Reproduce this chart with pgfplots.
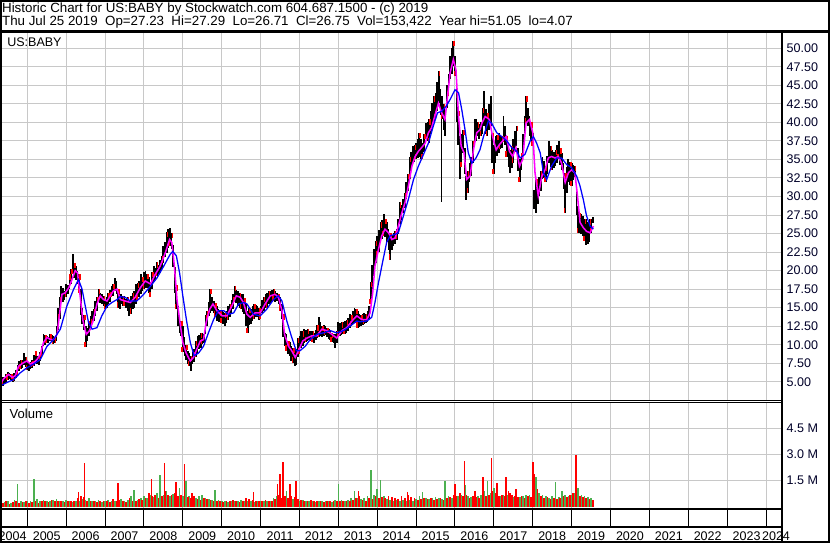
\documentclass[border=0pt]{standalone}
\usepackage{fontspec}
\setmainfont{Liberation Sans}
\usepackage{pgfplots}
\usepackage{pgfplotstable}
\pgfplotsset{compat=1.18}
\definecolor{gridc}{RGB}{200,200,200}
\definecolor{volg}{RGB}{76,176,80}
\definecolor{volr}{RGB}{255,0,0}
\definecolor{mag}{RGB}{255,0,255}
\definecolor{blu}{RGB}{0,0,255}
\definecolor{lab}{RGB}{0,0,40}

\pgfplotstableread{
m lo hi
4.0 4.1 5.2
4.5 4.4 5.6
5.0 4.7 5.7
5.5 5.0 6.0
6.0 5.3 6.3
6.5 5.4 6.2
7.0 5.3 6.1
7.5 5.0 5.9
8.0 5.1 6.2
8.5 5.5 6.6
9.0 5.9 7.3
9.5 6.4 7.8
10.0 6.7 8.0
10.5 6.8 7.9
11.0 7.2 8.85
11.5 7.0 8.4
12.0 6.6 7.8
12.5 6.5 7.5
13.0 6.7 7.7
13.5 6.8 7.9
14.0 7.1 8.6
14.5 7.6 9.2
15.0 7.4 8.5
15.5 7.2 8.3
16.0 7.8 9.0
16.5 8.6 9.8
17.0 9.8 11.4
17.5 10.0 11.3
18.0 10.3 11.2
18.5 10.2 11.0
19.0 10.5 11.4
19.5 10.4 11.3
20.0 10.1 11.2
20.5 10.3 11.0
21.0 10.5 12.5
21.5 12.0 15.0
22.0 13.5 16.5
22.5 15.7 17.9
23.0 15.8 17.7
23.5 16.0 17.3
24.0 16.5 18.2
24.5 16.8 18.0
25.0 17.5 19.5
25.5 18.2 20.2
26.0 19.5 22.3
26.5 19.0 21.0
27.0 18.8 20.6
27.5 18.2 20.0
28.0 17.0 19.5
28.5 14.0 17.5
29.0 12.8 15.0
29.5 12.0 14.0
30.0 9.7 12.5
30.5 10.5 12.3
31.0 11.2 13.2
31.5 12.0 13.9
32.0 12.8 14.6
32.5 13.2 14.8
33.0 13.9 15.9
33.5 14.5 16.5
34.0 15.8 17.5
34.5 15.6 17.0
35.0 15.5 16.8
35.5 15.2 16.6
36.0 14.8 16.1
36.5 15.0 16.4
37.0 15.5 17.0
37.5 15.8 17.4
38.0 16.4 17.9
38.5 16.6 18.2
39.0 17.3 19.0
39.5 16.8 18.6
40.0 15.0 17.5
40.5 14.8 16.8
41.0 15.5 16.8
41.5 15.2 16.6
42.0 15.2 16.6
42.5 15.0 16.2
43.0 14.5 16.4
43.5 13.9 16.0
44.0 14.2 16.6
44.5 14.8 17.0
45.0 15.0 17.3
45.5 15.5 18.2
46.0 16.0 18.3
46.5 16.5 18.6
47.0 16.8 19.5
47.5 17.2 19.2
48.0 17.5 19.8
48.5 17.7 20.0
49.0 17.7 19.6
49.5 17.0 19.1
50.0 16.4 18.5
50.5 17.5 19.8
51.0 18.4 20.6
51.5 18.8 20.4
52.0 19.3 21.1
52.5 19.5 20.8
53.0 19.7 21.5
53.5 20.2 22.0
54.0 21.0 23.3
54.5 21.8 23.8
55.0 22.4 25.2
55.5 23.0 25.6
56.0 23.3 25.8
56.5 22.9 25.1
57.0 20.5 23.5
57.5 17.0 20.5
58.0 14.8 18.0
58.5 12.5 15.2
59.0 11.6 13.9
59.5 11.2 13.2
60.0 9.0 12.5
60.5 8.5 11.0
61.0 8.0 10.0
61.5 7.4 9.2
62.0 7.1 8.9
62.5 6.5 8.5
63.0 7.4 9.0
63.5 7.7 9.4
64.0 8.3 10.5
64.5 8.8 11.2
65.0 9.4 11.3
65.5 9.6 11.6
66.0 10.1 11.6
66.5 10.2 11.4
67.0 11.5 14.0
67.5 12.5 14.5
68.0 13.9 15.8
68.5 14.3 17.5
69.0 14.5 16.4
69.5 14.3 15.9
70.0 13.8 15.6
70.5 13.2 15.2
71.0 13.0 14.8
71.5 13.1 14.6
72.0 12.9 14.6
72.5 12.8 14.4
73.0 12.5 14.3
73.5 12.9 14.6
74.0 13.4 15.2
74.5 13.8 15.5
75.0 14.3 16.1
75.5 14.8 16.8
76.0 15.7 17.9
76.5 15.6 17.4
77.0 15.2 17.2
77.5 15.0 17.0
78.0 14.8 16.8
78.5 14.4 16.8
79.0 14.2 16.3
79.5 12.5 15.5
80.0 11.6 14.5
80.5 12.6 15.0
81.0 12.8 14.8
81.5 13.2 15.2
82.0 13.5 15.5
82.5 13.7 15.3
83.0 13.8 15.2
83.5 13.4 15.0
84.0 13.5 15.2
84.5 14.3 16.0
85.0 14.6 16.4
85.5 14.9 16.8
86.0 15.0 17.0
86.5 15.5 17.3
87.0 15.6 17.2
87.5 15.7 17.4
88.0 15.9 17.5
88.5 15.8 17.2
89.0 15.9 17.0
89.5 15.5 16.8
90.0 14.6 16.4
90.5 13.5 15.5
91.0 11.0 14.1
91.5 9.8 11.6
92.0 9.2 11.4
92.5 8.8 10.5
93.0 8.5 10.4
93.5 7.8 9.8
94.0 7.6 9.6
94.5 7.1 9.2
95.0 7.3 9.4
95.5 8.3 10.9
96.0 8.8 11.2
96.5 9.6 11.9
97.0 9.8 11.8
97.5 10.3 12.1
98.0 10.4 12.0
98.5 10.5 12.1
99.0 10.6 11.9
99.5 10.5 11.9
100.0 10.4 11.8
100.5 10.3 11.6
101.0 10.6 12.0
101.5 10.9 12.6
102.0 11.0 13.7
102.5 11.2 13.0
103.0 11.0 12.5
103.5 11.2 12.6
104.0 11.3 12.5
104.5 11.1 12.3
105.0 10.8 12.1
105.5 10.7 11.9
106.0 10.4 11.6
106.5 10.3 11.5
107.0 9.6 11.4
107.5 10.2 11.8
108.0 11.0 13.0
108.5 11.2 12.9
109.0 11.3 13.0
109.5 11.4 13.1
110.0 11.4 13.2
110.5 11.6 13.3
111.0 11.8 13.6
111.5 12.3 14.1
112.0 12.5 14.0
112.5 12.8 14.5
113.0 13.0 15.0
113.5 12.9 14.8
114.0 12.3 14.6
114.5 12.4 14.1
115.0 12.5 14.0
115.5 12.6 14.1
116.0 12.8 14.3
116.5 12.9 14.2
117.0 13.0 14.6
117.5 13.5 15.2
118.0 15.5 18.5
118.5 17.5 20.8
119.0 19.3 22.9
119.5 21.0 24.0
120.0 22.0 24.7
120.5 22.5 25.5
121.0 23.8 26.5
121.5 24.3 26.8
122.0 24.7 27.6
122.5 24.5 27.0
123.0 23.8 26.5
123.5 22.8 25.6
124.0 21.5 25.1
124.5 22.8 24.8
125.0 23.3 25.1
125.5 23.6 25.3
126.0 24.2 25.6
126.5 25.0 27.0
127.0 26.3 29.2
127.5 26.8 28.8
128.0 27.8 29.6
128.5 28.4 30.5
129.0 29.6 31.9
129.5 30.8 33.0
130.0 32.3 35.4
130.5 33.5 36.0
131.0 34.5 36.8
131.5 34.6 37.0
132.0 35.0 37.2
132.5 35.2 37.8
133.0 35.4 38.6
133.5 35.0 37.8
134.0 35.0 37.2
134.5 36.0 38.5
135.0 37.7 39.9
135.5 37.5 40.0
136.0 37.2 40.4
136.5 38.5 41.5
137.0 39.0 42.6
137.5 40.0 43.5
138.0 40.4 44.0
138.5 41.5 45.5
139.0 42.6 46.9
139.5 41.0 44.5
140.0 40.4 43.5
140.5 39.0 42.5
141.0 38.1 41.7
141.5 42.0 45.0
142.0 43.5 46.5
142.5 45.8 48.9
143.0 46.5 50.0
143.5 47.6 51.0
144.0 46.2 48.9
144.5 40.0 44.5
145.0 37.0 41.5
145.5 32.3 38.1
146.0 34.0 38.5
146.5 35.9 39.0
147.0 33.0 36.5
147.5 29.5 32.8
148.0 30.5 33.5
148.5 31.9 34.5
149.0 32.8 35.4
149.5 34.5 37.5
150.0 36.8 40.4
150.5 37.5 40.4
151.0 38.1 40.0
151.5 37.8 39.8
152.0 38.1 40.0
152.5 38.5 42.0
153.0 39.5 44.2
153.5 38.5 41.8
154.0 38.1 41.3
154.5 39.0 42.5
155.0 39.5 43.5
155.5 34.5 38.6
156.0 33.0 37.0
156.5 34.5 38.1
157.0 35.5 38.3
157.5 35.9 38.6
158.0 36.4 38.3
158.5 36.6 38.1
159.0 38.1 40.8
159.5 37.0 39.5
160.0 35.4 38.1
160.5 34.0 37.0
161.0 33.2 36.3
161.5 33.8 36.8
162.0 34.5 37.7
162.5 36.0 38.8
163.0 36.8 39.5
163.5 33.5 36.5
164.0 31.9 35.0
164.5 33.6 35.9
165.0 35.5 38.5
165.5 38.6 40.8
166.0 39.9 43.5
166.5 39.5 42.0
167.0 38.1 40.8
167.5 37.5 40.0
168.0 36.8 38.6
168.5 28.3 30.9
169.0 27.8 32.3
169.5 29.0 31.8
170.0 30.1 32.7
170.5 30.8 33.5
171.0 32.3 35.4
171.5 32.5 34.8
172.0 31.9 34.1
172.5 33.0 35.5
173.0 34.5 37.5
173.5 34.0 36.8
174.0 33.6 36.3
174.5 33.8 36.0
175.0 34.1 36.3
175.5 34.5 37.0
176.0 35.0 37.5
176.5 34.3 36.5
177.0 33.6 35.9
177.5 31.0 34.5
178.0 27.8 33.2
178.5 30.5 34.0
179.0 31.9 35.0
179.5 31.5 34.6
180.0 31.4 34.5
180.5 32.2 34.3
181.0 32.7 34.1
181.5 27.5 31.5
182.0 25.1 28.7
182.5 25.1 27.8
183.0 24.9 27.6
183.5 24.7 27.4
184.0 24.0 27.0
184.5 23.5 26.9
185.0 23.6 26.5
185.5 23.8 26.9
186.0 25.1 26.9
186.5 26.4 27.3
}\price

\pgfplotstableread{
m g r
4 .35 .2
5 .25 .3
6 .3 .15
7 .2 .25
8 .4 .3
9 1.31 .2
10 .3 .25
11 .25 .35
12 .3 .2
13 .35 .25
14 1.6 .3
15 .45 .2
16 .3 .35
17 .4 .3
18 .35 .25
19 .3 .4
20 .4 .3
21 .45 .35
22 .35 .3
23 .3 .25
24 .4 .3
25 .3 .35
26 .25 .3
27 .35 .5
28 .3 .6
29 .45 .55
30 .4 .3
31 .5 .35
32 .35 .3
33 .3 .25
34 .4 .3
35 .25 .35
36 .3 .3
37 .4 .25
38 .35 .45
39 .3 .35
40 .3 .4
41 .45 .3
42 .35 .25
43 .4 .5
44 .6 .3
45 .94 .35
46 .4 .45
47 .5 .4
48 .6 .5
49 .5 .8
50 .7 .6
51 .55 .7
52 .8 .5
53 1.82 .6
54 .7 .9
55 .9 .7
56 .6 .65
57 .75 .8
58 .85 .6
59 1.07 .7
60 .6 .8
61 1.5 .55
62 .6 .5
63 .55 .6
64 .5 .45
65 .6 .4
66 .7 .5
67 .5 .45
68 .45 .4
69 .4 .35
70 .98 .3
71 .4 .35
72 .3 .25
73 .35 .3
74 .25 .35
75 .3 .4
76 .35 .3
77 .3 .25
78 .4 .35
79 .3 .5
80 .35 .45
81 .3 .4
82 .25 .35
83 .3 .3
84 .35 .3
85 .3 .4
86 .35 .3
87 .3 .35
88 .5 .45
89 .6 .7
90 .7 .5
91 .55 .6
92 .9 .5
93 .5 .6
94 .45 .55
95 .4 .45
96 .35 .4
97 .4 .35
98 .3 .3
99 .35 .4
100 .3 .35
101 .25 .3
102 .35 .3
103 .3 .25
104 .35 .3
105 .3 .35
106 .25 .3
107 .4 .35
108 1.31 .3
109 .4 .35
110 .35 .3
111 .4 .35
112 .5 .4
113 .9 .5
114 .5 .6
115 .45 .4
116 .5 .35
117 .6 .5
118 2.1 .45
119 .7 .6
120 1.0 .5
121 1.54 .55
122 .6 .5
123 .45 .6
124 .4 .55
125 .35 .5
126 .4 .45
127 .35 .6
128 .4 .5
129 .35 .7
130 .4 .55
131 .35 .5
132 .45 .4
133 .6 .45
134 .84 .5
135 .5 .45
136 .45 .5
137 .5 .4
138 .55 .45
139 .5 .5
140 .45 .4
141 1.48 .5
142 .6 .55
143 .5 .7
144 .55 .6
145 .6 .8
146 .7 .6
147 1.26 .7
148 .6 .5
149 .55 .6
150 .5 .55
151 .6 .5
152 .7 .8
153 .9 .6
154 1.48 .7
155 .8 .9
156 1.07 .8
157 .7 .6
158 .6 .7
159 .65 .6
160 .7 .9
161 .6 .7
162 .55 .6
163 .5 .55
164 .55 .6
165 .6 .5
166 .65 .6
167 .7 .55
168 .9 .8
169 1.73 1.0
170 .8 .6
171 .7 .5
172 .6 .55
173 .5 .45
174 .6 .5
175 1.41 .45
176 .55 .5
177 .9 .6
178 .7 .55
179 .6 .7
180 .7 .8
181 .8 .9
182 1.07 .6
183 .65 .55
184 .6 .5
185 .55 .45
186 .47 .4
}\vol

\pgfplotstableread{
m v
27.8 .84
29.7 2.53
40.0 1.35
50.3 1.6
54.3 2.53
57.9 1.41
60.5 2.48
62.9 .79
81.8 .84
89.2 1.31
90.0 1.88
90.9 2.6
93.1 1.31
94.9 1.48
114.2 .92
129.3 .84
144.0 1.3
146.9 2.66
150.2 .88
152.6 1.73
155.3 2.8
156.9 1.35
159.8 1.73
161.0 .8
162.8 1.0
168.0 2.6
168.4 1.9
181.3 2.96
}\rspk

\pgfplotsset{
  chartax/.style={
    scale only axis, width=586.5pt,
    xmin=3.574, xmax=244.93,
    axis line style={draw=none},
    major tick length=0pt, tick style={draw=none},
    xtick={12,24,36,48,60,72,84,96,108,120,132,144,156,168,180,192,204,216,228,240},
    xticklabels={\empty},
    xmajorgrids, ymajorgrids,
    grid style={gridc, line width=0.75pt},
    yticklabel pos=right,
    /pgf/number format/assume math mode=true,
    tick label style={font=\fontsize{9.4}{11}\selectfont, text=lab},
    yticklabel style={anchor=west},
  },
}

\begin{document}
\begin{tikzpicture}
\path[use as bounding box] (0pt,0pt) rectangle (622.5pt,-407.25pt);

\begin{axis}[chartax, at={(0pt,-300pt)}, anchor=south west, height=276pt,
  ymin=2.54, ymax=52.2,
  ytick={5,7.5,10,12.5,15,17.5,20,22.5,25,27.5,30,32.5,35,37.5,40,42.5,45,47.5,50},
  yticklabel style={/pgf/number format/.cd, fixed, fixed zerofill, precision=2}]
\addplot[draw=none, mark=none, error bars/.cd, y dir=both, y explicit, error mark=none,
  error bar style={draw=black, line width=1.35pt}]
  table[x=m, y expr={(\thisrow{lo}+\thisrow{hi})/2}, y error expr={(\thisrow{hi}-\thisrow{lo})/2}] \price;
\addplot[draw=none, mark=none, error bars/.cd, y dir=both, y explicit, error mark=none,
  error bar style={draw=black, line width=0.8pt}]
  coordinates {(139.7,36.1) +- (0,6.9)};
\addplot[draw=none, mark=none, each nth point=3, filter discard warning=false,
  error bars/.cd, y dir=both, y explicit, error mark=none, error bar style={draw=red, line width=1.1pt}]
  table[x expr=\thisrow{m}+0.25, y expr=\thisrow{hi}-0.35, y error expr=0.35] \price;
\addplot[draw=none, mark=none, each nth point=4, filter discard warning=false,
  error bars/.cd, y dir=both, y explicit, error mark=none, error bar style={draw=red, line width=1.1pt}]
  table[x expr=\thisrow{m}-0.2, y expr=\thisrow{lo}+0.35, y error expr=0.35] \price;
\addplot[mag, line width=1.15pt] coordinates {
(3.7,4.7) (4.7,5.4) (6.2,6.0) (7.3,5.6) (8.3,5.8) (9.3,7.1) (10.9,7.6) (11.9,7.8) (12.9,7.4) (14.0,7.6)
(15.0,8.0) (16.0,8.7) (17.0,10.3) (18.1,11.0) (19.1,10.7) (20.1,10.7) (21.2,11.4) (22.0,14.3) (22.7,16.8)
(23.7,17.0) (24.8,17.7) (25.8,18.8) (26.8,20.0) (27.5,19.7) (28.3,16.6) (29.2,13.2) (30.2,11.4) (31.2,11.9)
(32.3,13.2) (33.5,15.5) (34.5,16.6) (35.5,16.1) (36.6,15.9) (37.6,16.6) (38.6,17.3) (39.7,17.5) (40.7,16.1)
(42.2,15.9) (43.8,15.7) (45.3,16.4) (46.9,17.7) (48.4,18.6) (50.0,18.2) (51.5,19.5) (53.0,20.6) (54.6,22.4)
(55.9,24.2) (56.6,23.8) (57.4,20.6) (58.2,16.1) (59.0,13.4) (60.0,10.3) (61.0,8.9) (62.3,7.8) (63.3,8.3)
(64.3,9.4) (65.4,10.5) (66.4,10.7) (67.2,13.0) (68.3,14.8) (69.3,15.5) (70.5,14.6) (72.1,13.9) (73.6,13.9)
(75.1,15.2) (76.5,16.6) (77.7,16.4) (78.7,15.7) (79.8,14.1) (80.8,13.7) (82.3,14.3) (83.9,14.3) (85.4,15.5)
(87.0,16.6) (88.5,16.8) (89.5,16.4) (90.6,14.6) (91.4,11.4) (92.6,9.8) (93.6,9.2) (94.7,8.3) (95.7,9.2)
(97.0,10.5) (98.3,10.9) (99.8,11.2) (101.4,11.2) (102.9,12.1) (104.4,11.9) (106.0,11.4) (107.5,10.9)
(109.1,11.9) (110.6,12.3) (112.2,13.2) (113.7,13.9) (115.2,13.4) (116.8,13.4) (117.8,14.3) (118.6,17.0)
(119.3,20.6) (120.4,22.9) (121.4,24.7) (122.4,25.6) (123.5,25.1) (124.5,24.2) (125.5,24.4) (126.5,26.0)
(127.6,27.8) (128.6,29.2) (129.6,31.4) (130.7,34.1) (131.7,35.4) (132.7,36.1) (133.7,36.6) (134.8,37.2)
(135.8,38.6) (136.8,39.3) (137.9,41.1) (138.9,42.6) (139.9,41.3) (140.9,40.4) (141.7,43.5) (142.5,46.7)
(143.5,48.5) (144.3,47.1) (145.1,40.8) (145.9,36.8) (146.8,35.9) (147.6,32.3) (148.7,32.8) (149.7,36.3)
(150.7,38.6) (151.7,39.0) (152.3,39.9) (153.3,40.8) (154.6,40.4) (155.6,38.1) (156.7,36.3) (157.7,37.0)
(158.7,37.5) (159.8,38.1) (160.8,36.1) (161.8,35.4) (162.8,36.6) (163.9,34.1) (164.9,35.0) (165.9,39.9)
(167.0,40.4) (168.0,38.6) (168.7,33.2) (169.7,30.1) (170.8,32.7) (171.8,33.6) (172.8,35.2) (173.8,35.4)
(174.9,35.2) (175.9,35.4) (176.9,34.5) (178.0,31.9) (179.0,33.2) (180.0,33.6) (181.0,33.2) (181.8,30.1)
(182.6,26.5) (183.6,25.8) (184.6,25.3) (185.7,25.1) (186.7,26.0)};
\addplot[blu, line width=0.95pt] coordinates {
(3.7,4.45) (5.7,4.9) (7.8,5.3) (9.8,6.2) (11.9,6.9) (14.0,7.4) (16.0,8.0) (18.1,9.8) (20.1,10.7) (22.2,12.1)
(24.2,15.2) (26.3,17.5) (27.8,18.8) (28.9,17.5) (29.9,15.2) (30.9,13.0) (32.0,12.1) (33.5,12.3) (35.0,13.9)
(36.6,15.2) (38.1,15.7) (39.7,16.1) (40.7,16.5) (42.2,16.4) (43.8,15.9) (45.8,15.9) (47.9,16.8) (50.0,17.9)
(52.0,19.0) (54.1,20.6) (56.1,22.2) (56.9,22.6) (58.0,22.0) (59.0,19.7) (60.0,16.6) (61.1,13.4) (62.3,10.3)
(63.5,8.5) (64.9,8.9) (66.4,9.8) (67.9,11.6) (69.5,13.4) (71.0,14.6) (72.6,14.6) (74.1,14.1) (75.7,14.3)
(77.2,15.5) (78.9,15.7) (79.8,15.5) (81.8,14.1) (83.9,13.9) (85.9,14.8) (88.0,16.1) (89.5,16.6) (90.6,15.9)
(92.1,13.2) (93.6,11.0) (95.0,9.2) (96.2,9.2) (97.8,9.8) (99.3,10.7) (101.4,11.4) (103.4,11.6) (105.5,11.9)
(107.5,11.6) (109.6,11.9) (111.6,12.5) (113.7,13.2) (114.7,13.1) (116.8,13.2) (118.3,13.7) (119.3,15.7)
(120.4,18.4) (121.4,20.6) (122.9,23.8) (124.0,24.7) (125.5,24.9) (126.5,25.1) (128.1,27.4) (129.6,29.6)
(131.2,32.3) (132.7,34.1) (134.3,35.7) (135.8,37.2) (137.3,39.5) (138.6,41.3) (139.9,41.5) (141.3,42.2)
(142.5,43.1) (144.0,44.4) (145.1,44.0) (146.1,41.7) (147.1,39.0) (148.1,35.9) (149.2,34.5) (150.5,35.2)
(151.7,36.3) (152.8,38.1) (154.3,40.2) (155.3,39.9) (156.9,38.6) (158.4,38.1) (160.0,37.5) (161.5,36.6)
(163.1,36.1) (164.1,35.2) (165.6,35.7) (167.2,37.5) (168.2,38.1) (169.2,37.2) (170.3,35.9) (171.3,33.2)
(172.3,32.3) (173.8,34.1) (175.4,35.2) (176.9,35.2) (178.5,34.3) (180.0,33.9) (181.6,32.7) (182.6,31.4)
(183.6,29.6) (184.6,27.4) (185.7,26.0) (186.7,25.6)};
\end{axis}

\begin{axis}[chartax, at={(0pt,-381pt)}, anchor=south west, height=79.5pt,
  ymin=-0.08, ymax=6.04,
  ytick={1.5,3,4.5}, yticklabels={1.5 M,3.0 M,4.5 M}]
\addplot[ycomb, volg, line width=1.25pt] table[x=m, y=g] \vol;
\addplot[ycomb, volr, line width=1.25pt] table[x expr=\thisrow{m}+0.5, y=r] \vol;
\addplot[ycomb, volr, line width=1.25pt] table[x=m, y=v] \rspk;
\end{axis}

% frame and separators
\draw[line width=1.5pt] (0.75pt,-0.75pt) rectangle (621.75pt,-406.5pt);
\draw[line width=1.9pt] (0pt,-23.6pt) -- (622.5pt,-23.6pt);
\draw[line width=1.5pt] (586.5pt,-23.6pt) -- (586.5pt,-407.25pt);
\draw[line width=0.75pt] (0pt,-300.2pt) -- (586.5pt,-300.2pt);
\draw[line width=0.75pt] (0pt,-301.7pt) -- (586.5pt,-301.7pt);
\draw[line width=1.5pt] (0pt,-382pt) -- (586.5pt,-382pt);
\draw[line width=1.5pt] (0pt,-395.25pt) -- (586.5pt,-395.25pt);
\foreach \k in {0,...,19} \draw[line width=0.75pt] ({20.475pt+29.16pt*\k},-382pt) -- ({20.475pt+29.16pt*\k},-395.25pt);

% texts
\node[anchor=base west, inner sep=0pt, font=\fontsize{10}{12}\selectfont] at (1.4pt,-9.2pt)
  {Historic Chart for US:BABY by Stockwatch.com 604.687.1500 - (c) 2019};
\node[anchor=base west, inner sep=0pt, font=\fontsize{10}{12}\selectfont] at (1.4pt,-18.9pt)
  {Thu Jul 25 2019\ \ Op=27.23\ \ Hi=27.29\ \ Lo=26.71\ \ Cl=26.75\ \ Vol=153,422\ \ Year hi=51.05\ \ lo=4.07};
\node[anchor=base west, inner sep=0pt, font=\fontsize{9.4}{11}\selectfont] at (5.25pt,-34.5pt) {US:BABY};
\node[anchor=base west, inner sep=0pt, font=\fontsize{9.8}{11}\selectfont] at (7pt,-313.5pt) {Volume};
\node[anchor=base, inner sep=0pt, font=\fontsize{9.4}{11}\selectfont] at (9.45pt,-405pt) {2004};
\foreach \yr [count=\i from 0] in {2005,2006,2007,2008,2009,2010,2011,2012,2013,2014,2015,2016,2017,2018,2019,2020,2021,2022,2023}
  \node[anchor=base, inner sep=0pt, font=\fontsize{9.4}{11}\selectfont] at ({35.06pt+29.16pt*\i},-405pt) {\yr};
\node[anchor=base, inner sep=0pt, font=\fontsize{9.4}{11}\selectfont] at (582pt,-405pt) {2024};
\end{tikzpicture}
\end{document}
